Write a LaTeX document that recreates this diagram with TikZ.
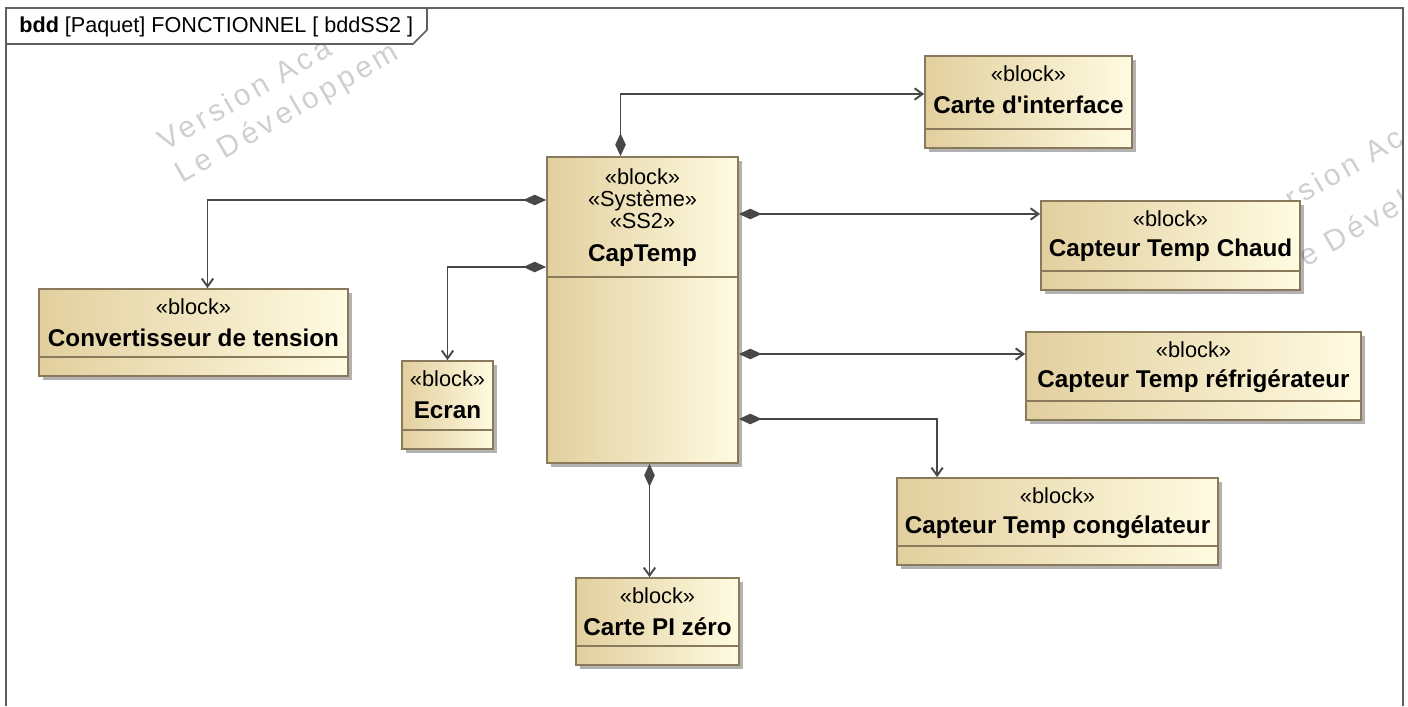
\documentclass[tikz,border=0pt]{standalone}
\usepackage{fontspec}
\setmainfont{Liberation Sans}
\usetikzlibrary{arrows.meta,calc,fit,shadows,positioning}

\definecolor{blockdark}{RGB}{226,207,158}
\definecolor{blocklight}{RGB}{255,251,225}
\definecolor{blockedge}{RGB}{138,122,92}
\definecolor{linkgray}{RGB}{72,72,72}
\definecolor{framegray}{RGB}{95,95,95}

\tikzset{
  blockbox/.style={draw=blockedge,line width=1pt,inner sep=0pt,
    left color=blockdark,right color=blocklight,
    drop shadow={shadow xshift=2.2pt,shadow yshift=-2.2pt,fill=black,opacity=.3}},
  blockrule/.style={draw=blockedge,line width=1pt},
  stereo/.style={font=\fontsize{12.4}{12.5}\selectfont,inner sep=0pt,align=center},
  blockname/.style={font=\fontsize{13.8}{14}\selectfont\bfseries,inner sep=0pt},
  comp/.style={draw=linkgray,line width=1.1pt,
    {Diamond[length=13pt,width=6pt]}-{Straight Barb[length=4.5pt,width=6.5pt]}},
  watermark/.style={font=\fontsize{17}{17}\selectfont\addfontfeature{LetterSpace=13},
    text=black!19,inner sep=0pt,anchor=base west,rotate=30},
}

% block with one stereotype, name and an empty compartment
\newcommand\Block[4]{%
  \node[blockbox,fit={(#2)(#3)}] (#1) {};
  \draw[blockrule] ($(#1.south west)+(0,-20)$) -- ($(#1.south east)+(0,-20)$);
  \node[stereo] (#1-st) at ($(#1.north)+(0,19)$) {«block»};
  \node[blockname] (#1-nm) at ($(#1.north)+(0,50)$) {#4};
}

\begin{document}
\begin{tikzpicture}[x=0.02cm,y=-0.02cm]
\useasboundingbox (0,0) rectangle (1408,706);

% watermark
\begin{scope}
\clip (6,8) rectangle (1403,706);
\node[watermark] (wm-a1) at (165,152) {Version Aca};
\node[watermark] (wm-a2) at (182,184) {Le Développem};
\node[watermark] (wm-b1) at (1292,210) {rsion Ac};
\node[watermark] (wm-b2) at (1306,268) {e Dével};
\end{scope}

% frame
\draw[framegray,line width=1pt] (6,706) -- (6,8) -- (1403,8) -- (1403,706);
\draw[framegray,line width=1pt,fill=white]
  (6,8) -- (427,8) -- (427,30) -- (413,44) -- (6,44) -- cycle;
\node[anchor=west,inner sep=0pt,font=\fontsize{12.3}{13}\selectfont] (title) at (19,27)
  {\textbf{bdd} [Paquet] FONCTIONNEL [ bddSS2 ]};

% system block
\node[blockbox,fit={(547,157)(738,463)}] (captemp) {};
\draw[blockrule] ($(captemp.north west)+(0,121)$) -- ($(captemp.north east)+(0,121)$);
\node[stereo] (captemp-st) at ($(captemp.north)+(0,43)$) {«block»\\«Système»\\«SS2»};
\node[blockname] (captemp-nm) at ($(captemp.north)+(0,99)$) {CapTemp};

% parts
\Block{interface}{925,56}{1132,148}{Carte d\textquotesingle interface}
\Block{chaud}{1041,201}{1300,290}{Capteur Temp Chaud}
\Block{conv}{39,289}{348,376}{Convertisseur de tension}
\Block{ecran}{402,361}{493,449}{Ecran}
\Block{refrig}{1026,332}{1361,420}{Capteur Temp réfrigérateur}
\Block{cong}{897,478}{1218,565}{Capteur Temp congélateur}
\Block{pi}{576,578}{739,665}{Carte PI zéro}

% composition links
\draw[comp] ($(captemp.north)+(-22,0)$) |- ($(interface.west)+(0,-8)$);
\draw[comp] ($(captemp.west)+(0,-110)$) -| ($(conv.north)+(14,0)$);
\draw[comp] ($(captemp.west)+(0,-43)$) -| (ecran.north);
\draw[comp] ($(captemp.east)+(0,-96)$) coordinate (c-chaud) -- (c-chaud -| chaud.west);
\draw[comp] ($(captemp.east)+(0,44)$) coordinate (c-refrig) -- (c-refrig -| refrig.west);
\draw[comp] ($(captemp.east)+(0,109)$) -| ($(cong.north west)+(41,0)$);
\draw[comp] ($(captemp.south)+(7,0)$) coordinate (c-pi) -- (c-pi |- pi.north);
\end{tikzpicture}
\end{document}
